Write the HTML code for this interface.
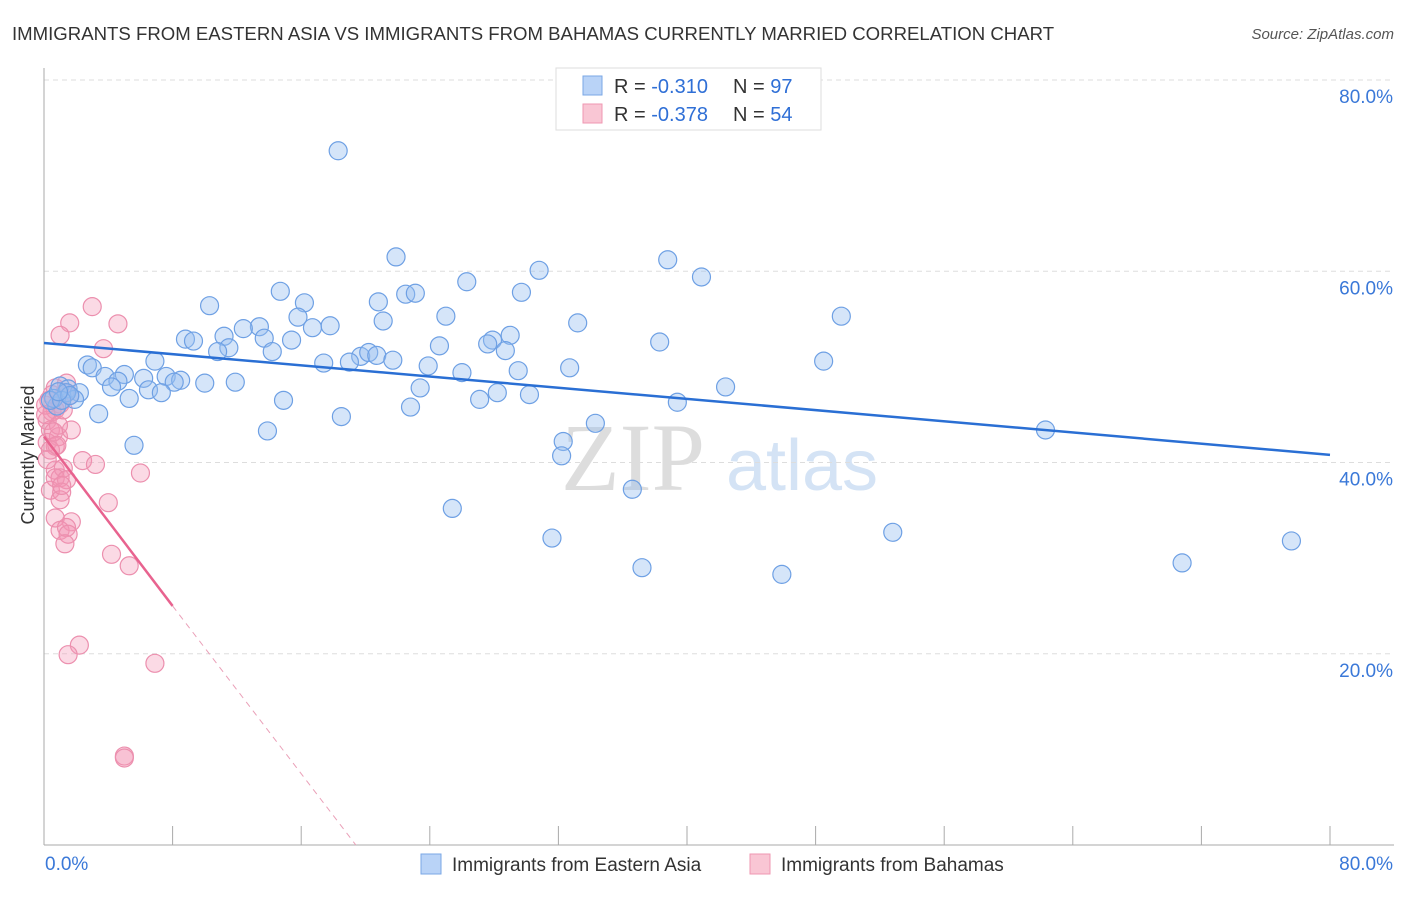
<!DOCTYPE html>
<html><head><meta charset="utf-8"><style>
body{margin:0;background:#fff;font-family:"Liberation Sans",sans-serif;}
</style></head><body>
<svg width="1406" height="892" xmlns="http://www.w3.org/2000/svg" style="font-family:'Liberation Sans',sans-serif">
<text x="12" y="40" font-size="18.6" fill="#333">IMMIGRANTS FROM EASTERN ASIA VS IMMIGRANTS FROM BAHAMAS CURRENTLY MARRIED CORRELATION CHART</text>
<text x="1394" y="39" font-size="15" fill="#555" font-style="italic" text-anchor="end">Source: ZipAtlas.com</text>
<text x="633" y="490" font-size="96" fill="#ddd" font-family="Liberation Serif" text-anchor="middle">ZIP</text>
<text x="802" y="490" font-size="72" fill="#d4e3f5" text-anchor="middle">atlas</text>
<g id="grid"></g>
<g id="axes"></g>
<g id="marks"></g>
<text transform="translate(34,455) rotate(-90)" font-size="18" fill="#333" text-anchor="middle">Currently Married</text>
<g>
<rect x="556" y="68" width="265" height="62" fill="#fff" stroke="#ddd"/>
<rect x="583" y="76" width="19" height="19" fill="#b9d3f7" stroke="#7aa7e6"/>
<rect x="583" y="104" width="19" height="19" fill="#f9c6d4" stroke="#ef97b2"/>
<text x="614" y="93" font-size="20" fill="#333">R = <tspan fill="#2f6fd6">-0.310</tspan></text>
<text x="733" y="93" font-size="20" fill="#333">N = <tspan fill="#2f6fd6">97</tspan></text>
<text x="614" y="121" font-size="20" fill="#333">R = <tspan fill="#2f6fd6">-0.378</tspan></text>
<text x="733" y="121" font-size="20" fill="#333">N = <tspan fill="#2f6fd6">54</tspan></text>
</g>
<g>
<rect x="421" y="854" width="20" height="20" fill="#b9d3f7" stroke="#7aa7e6"/>
<text x="452" y="871" font-size="19" fill="#333">Immigrants from Eastern Asia</text>
<rect x="750" y="854" width="20" height="20" fill="#f9c6d4" stroke="#ef97b2"/>
<text x="781" y="871" font-size="19" fill="#333">Immigrants from Bahamas</text>
</g>
</svg>
<script>
const yTicks=[20,40,60,80];
const yTickLabels=["20.0%","40.0%","60.0%","80.0%"];
const xTickVals=[0,8,16,24,32,40,48,56,64,72,80];
const blueX=[18.3,21.9,30.8,38.8,40.9,26.3,14.7,29.7,16.2,20.8,22.5,23.1,10.3,25.0,15.8,21.1,33.2,49.6,13.4,16.7,12.4,17.8,8.8,9.3,11.2,13.7,15.4,29.0,27.9,27.6,24.6,11.5,10.8,14.2,28.7,38.3,6.9,19.7,20.2,20.7,21.7,19.0,17.4,23.9,2.7,3.0,32.7,48.5,26.0,29.5,3.8,5.0,6.2,7.6,8.5,4.6,8.1,10.0,11.9,4.2,1.0,1.5,2.2,6.5,7.3,5.3,1.9,23.4,42.4,28.2,27.1,30.2,14.9,22.8,39.4,3.4,18.5,1.4,0.8,0.6,5.6,13.9,34.3,32.3,32.2,62.3,36.6,25.4,31.6,52.8,77.6,70.8,37.2,45.9,0.4,1.1,1.6,0.9];
const blueY=[72.6,61.5,60.1,61.2,59.4,58.9,57.9,57.8,56.7,56.8,57.6,57.7,56.4,55.3,55.2,54.8,54.6,55.3,54.2,54.1,54.0,54.3,52.9,52.7,53.2,53.0,52.8,53.3,52.8,52.4,52.2,52.0,51.6,51.6,51.7,52.6,50.6,51.1,51.5,51.2,50.7,50.5,50.4,50.1,50.2,49.9,49.9,50.6,49.4,49.6,49.0,49.2,48.8,49.0,48.6,48.5,48.4,48.3,48.4,47.9,48.0,47.7,47.3,47.6,47.3,46.7,46.6,47.8,47.9,47.3,46.6,47.1,46.5,45.8,46.3,45.1,44.8,47.3,45.9,46.7,41.8,43.3,44.1,42.2,40.7,43.4,37.2,35.2,32.1,32.7,31.8,29.5,29.0,28.3,46.5,46.5,47.0,47.4];
const pinkX=[3.0,1.6,4.6,1.0,3.7,1.4,0.7,1.3,0.3,1.0,0.7,0.5,0.2,0.4,0.9,1.7,0.2,0.7,2.4,3.2,0.7,1.0,1.2,6.0,0.4,0.7,1.4,1.1,1.0,4.0,0.7,1.7,1.0,1.4,1.5,1.3,4.2,5.3,2.2,1.5,6.9,5.0,5.0,0.4,0.5,0.9,0.2,1.1,0.1,0.6,1.6,1.2,0.8,0.1];
const pinkY=[56.3,54.6,54.5,53.3,51.9,48.3,47.8,47.3,46.5,46.1,45.5,45.3,44.4,43.4,42.7,43.4,42.1,41.7,40.2,39.8,39.2,38.4,39.4,38.9,37.1,38.4,38.2,36.9,36.1,35.8,34.2,33.8,32.9,33.2,32.5,31.5,30.4,29.2,20.9,19.9,19.0,9.3,9.1,41.3,47.1,43.9,40.3,37.6,46.0,43.2,47.0,45.5,41.8,45.0];
const blueTrend=[[0,52.5],[80,40.8]];
const pinkTrend=[[0,42.7],[8,25.0]];
const pinkTrendExt=[[8,25.0],[19.4,0]];

const X0=44,X1=1330,Y0=845,Y80=80;
const sx=v=>X0+(X1-X0)*v/80;
const sy=v=>Y0-(Y0-Y80)*v/80;
const NS="http://www.w3.org/2000/svg";
function mk(tag,attrs,parent){const e=document.createElementNS(NS,tag);for(const k in attrs)e.setAttribute(k,attrs[k]);parent.appendChild(e);return e;}
const grid=document.getElementById('grid'),axes=document.getElementById('axes'),marks=document.getElementById('marks');
yTicks.forEach((t,i)=>{
  const l=mk('line',{x1:X0,x2:1394,y1:sy(t),y2:sy(t),stroke:'#ddd','stroke-dasharray':'5,4'},grid);
  
  
  const tx=mk('text',{x:1393,y:sy(t)+23,'font-size':19,fill:'#3a78d8','text-anchor':'end'},axes);
  tx.textContent=yTickLabels[i];
  
  
});
let a=mk('line',{x1:X0,x2:X0,y1:68,y2:Y0,stroke:'#aaa'},axes);


a=mk('line',{x1:X0,x2:1394,y1:Y0,y2:Y0,stroke:'#aaa'},axes);


xTickVals.forEach(v=>{if(v===0)return;const t=mk('line',{x1:sx(v),x2:sx(v),y1:Y0-19,y2:Y0,stroke:'#aaa'},axes);
  
  });
let xl=mk('text',{x:45,y:870,'font-size':19,fill:'#3a78d8'},axes);xl.textContent='0.0%';


xl=mk('text',{x:1393,y:870,'font-size':19,fill:'#3a78d8','text-anchor':'end'},axes);xl.textContent='80.0%';


pinkX.forEach((x,i)=>{const c=mk('circle',{cx:sx(x),cy:sy(pinkY[i]),r:9,fill:'rgba(244,150,180,0.35)',stroke:'#ec8fae','stroke-width':1.2},marks);
  
  });
blueX.forEach((x,i)=>{const c=mk('circle',{cx:sx(x),cy:sy(blueY[i]),r:9,fill:'rgba(150,190,240,0.4)',stroke:'#6ea0e4','stroke-width':1.2},marks);
  
  });
let tl=mk('line',{x1:sx(blueTrend[0][0]),y1:sy(blueTrend[0][1]),x2:sx(blueTrend[1][0]),y2:sy(blueTrend[1][1]),stroke:'#2a6fd4','stroke-width':2.5},marks);


tl=mk('line',{x1:sx(pinkTrend[0][0]),y1:sy(pinkTrend[0][1]),x2:sx(pinkTrend[1][0]),y2:sy(pinkTrend[1][1]),stroke:'#e8638f','stroke-width':2.5},marks);


tl=mk('line',{x1:sx(pinkTrendExt[0][0]),y1:sy(pinkTrendExt[0][1]),x2:sx(pinkTrendExt[1][0]),y2:sy(pinkTrendExt[1][1]),stroke:'#eaa0b8','stroke-width':1,'stroke-dasharray':'6,5'},marks);


</script>
</body></html>
